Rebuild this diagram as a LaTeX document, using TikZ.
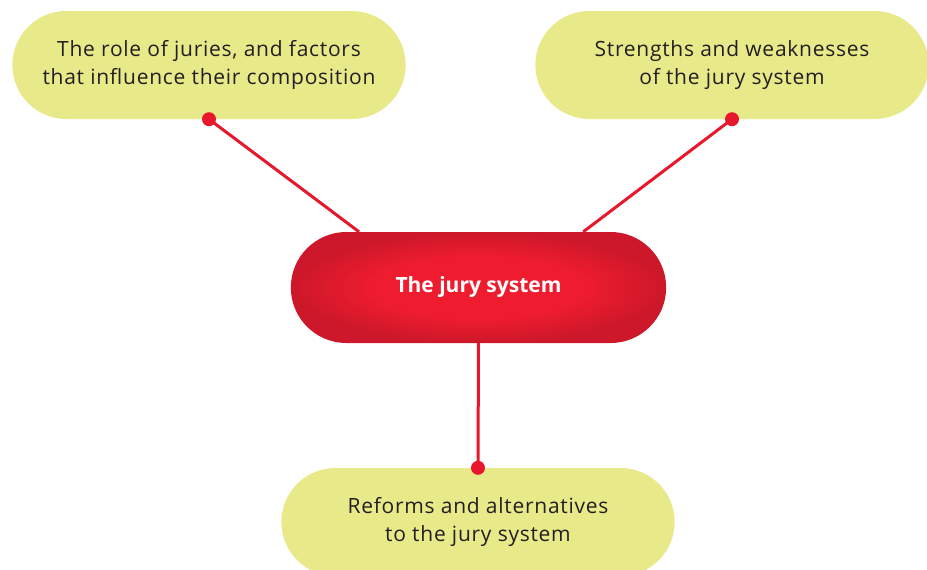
\documentclass[tikz,border=0pt]{standalone}
\usepackage{fontspec}
\setmainfont{Open Sans}
\newfontfamily\topicfont[LetterSpace=3.5]{Open Sans}
\usetikzlibrary{shapes.misc}
\definecolor{pillyellow}{RGB}{232,234,138}
\definecolor{juryred}{RGB}{238,28,46}
\definecolor{jurydark}{RGB}{204,24,42}
\definecolor{linkred}{RGB}{232,24,44}
\definecolor{inktext}{RGB}{35,31,32}
\pgfdeclareradialshading{hubshade}{\pgfpoint{0bp}{0bp}}{color(0bp)=(juryred); color(14bp)=(juryred); color(25bp)=(jurydark); color(50bp)=(jurydark)}
\tikzset{
  topic/.style={rounded rectangle, fill=pillyellow, minimum width=400pt,
    minimum height=108pt, align=center, text=inktext,
    font=\topicfont\fontsize{21}{28}\selectfont},
  hub/.style={rounded rectangle, shading=hubshade,
    minimum width=382pt, minimum height=111pt, text=white,
    font=\fontsize{21}{26}\selectfont\bfseries},
  dot/.style={circle, fill=linkred, inner sep=0pt, minimum size=14pt},
  link/.style={draw=linkred, line width=3pt}
}
\begin{document}
\begin{tikzpicture}[x=1pt,y=-1pt]
\clip (0,0) rectangle (927,570);
\useasboundingbox (0,0) rectangle (927,570);
\node[hub] (jury) at (478.5,287.5) {The jury system};
\node[topic] (role) at (209,65) {The role of juries, and factors\\that influence their composition};
\node[topic] (strength) at (732,65) {Strengths and weaknesses\\of the jury system};
\node[topic] (reform) at (478,522) {Reforms and alternatives\\to the jury system};

\node[dot] (roledot) at (role.south) {};
\node[dot] (strengthdot) at (strength.south) {};
\node[dot] (reformdot) at (reform.north) {};

\draw[link] (roledot.center)--(jury.155.5);
\draw[link] (strengthdot.center)--(jury.28.4);
\draw[link] (reformdot.center)--(jury.south);
\end{tikzpicture}
\end{document}
